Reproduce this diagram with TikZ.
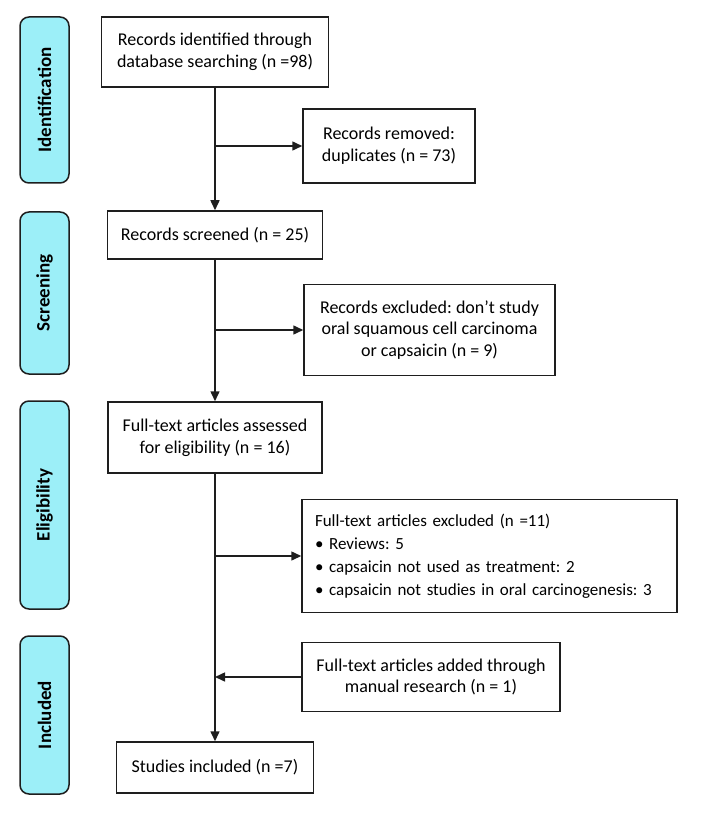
\documentclass[tikz,border=0pt]{standalone}
\usepackage{fontspec}
\setmainfont{Carlito}
\usepackage{xcolor}
\usepackage{tikz}
\usetikzlibrary{arrows.meta, positioning}

\definecolor{phasecyan}{HTML}{9CEFF8}
\definecolor{edge}{HTML}{1E1E1E}

\tikzset{
    box/.style={draw=edge, line width=1.5pt, fill=white, inner sep=0pt, align=center,
        font=\fontsize{18}{21.7}\selectfont},
    phase/.style={draw=edge, line width=1.5pt, fill=phasecyan, rounded corners=9pt,
        inner sep=0pt, rotate=90, minimum height=49pt, font=\fontsize{19}{22}\selectfont\bfseries},
    flow/.style={line width=1.5pt, draw=edge, -{Triangle[length=10pt, width=9pt]}}
}

\begin{document}
\frenchspacing
\begin{tikzpicture}[x=1pt, y=-1pt]

    \useasboundingbox (0,0) rectangle (708,818);

    \node[phase, minimum width=166pt] (ident) at (44.5,100) {Identification};
    \node[phase, minimum width=162pt] (screen) at (44.5,293) {Screening};
    \node[phase, minimum width=208pt] (elig) at (44.5,505) {Eligibility};
    \node[phase, minimum width=158pt] (inc) at (44.5,715) {Included};

    \node[box, minimum width=227pt, minimum height=70pt] (found) at (215,52)
        {Records identified through\\database searching (n =98)};
    \node[box, minimum width=172pt, minimum height=74pt] (dupes) at (389,146)
        {Records removed:\\duplicates (n = 73)};
    \node[box, minimum width=215pt, minimum height=48pt] (screened) at (215,235)
        {Records screened (n = 25)};
    \node[box, minimum width=251pt, minimum height=91pt] (excl) at (429.5,330)
        {Records excluded: don’t study\\oral squamous cell carcinoma\\or capsaicin (n = 9)};
    \node[box, minimum width=214pt, minimum height=71pt] (fulltext) at (215,437.5)
        {Full-text articles assessed\\for eligibility (n = 16)};
    \node[box, align=left, text width=349pt, inner xsep=13pt, minimum height=113pt,
        font=\fontsize{17}{23}\selectfont] (ftexcl) at (489.5,556)
        {Full-text articles excluded (n =11)\\
         • Reviews: 5\\
         • capsaicin not used as treatment: 2\\
         • capsaicin not studies in oral carcinogenesis: 3};
    \node[box, minimum width=258pt, minimum height=69pt] (added) at (431,677)
        {Full-text articles added through\\manual research (n = 1)};
    \node[box, minimum width=197pt, minimum height=51pt] (incl) at (215,767.5)
        {Studies included (n =7)};

    \draw[flow] (found) -- (screened);
    \draw[flow] (found.south |- dupes.west) -- (dupes.west);
    \draw[flow] (screened) -- (fulltext);
    \draw[flow] (screened.south |- excl.west) -- (excl.west);
    \draw[flow] (fulltext) -- (incl);
    \draw[flow] (fulltext.south |- ftexcl.west) -- (ftexcl.west);
    \draw[flow] (added.west) -- (incl.north |- added.west);
\end{tikzpicture}
\end{document}
